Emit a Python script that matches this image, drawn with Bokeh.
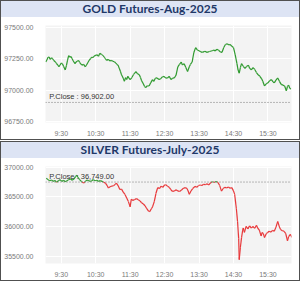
from bokeh.plotting import figure
from bokeh.models import Div, FixedTicker, PrintfTickFormatter, Span, ColumnDataSource, Range1d
from bokeh.layouts import column
from bokeh.core.properties import value
from bokeh.embed import file_html
from bokeh.resources import INLINE

# ---------------- data ----------------
x_tick_labels = ["9:30", "10:30", "11:30", "12:30", "13:30", "14:30", "15:30"]

gold_title = "GOLD Futures-Aug-2025"
gold_pclose = 96902.00
gold_yticks = [96750, 97000, 97250, 97500]
gold_times = [
    "9:03", "9:05", "9:07", "9:09", "9:11", "9:13", "9:15", "9:17", "9:20", "9:22",
    "9:24", "9:26", "9:28", "9:30", "9:32", "9:34", "9:37", "9:39", "9:41", "9:43",
    "9:45", "9:47", "9:49", "9:51", "9:54", "9:56", "9:58", "10:00", "10:02", "10:04",
    "10:06", "10:09", "10:12", "10:14", "10:17", "10:19", "10:21", "10:23", "10:25", "10:27",
    "10:29", "10:32", "10:35", "10:37", "10:40", "10:43", "10:45", "10:47", "10:49", "10:52",
    "10:55", "10:57", "11:00", "11:03", "11:05", "11:07", "11:09", "11:11", "11:13", "11:15",
    "11:18", "11:20", "11:22", "11:24", "11:26", "11:28", "11:30", "11:33", "11:36", "11:38",
    "11:40", "11:43", "11:46", "11:48", "11:50", "11:52", "11:55", "11:57", "12:00", "12:03",
    "12:06", "12:09", "12:11", "12:14", "12:17", "12:20", "12:23", "12:26", "12:29", "12:32",
    "12:35", "12:38", "12:41", "12:44", "12:47", "12:50", "12:53", "12:56", "12:59", "13:01",
    "13:04", "13:07", "13:10", "13:13", "13:15", "13:18", "13:21", "13:24", "13:27", "13:30",
    "13:33", "13:36", "13:40", "13:44", "13:48", "13:53", "13:56", "13:58", "14:01", "14:04",
    "14:07", "14:10", "14:13", "14:16", "14:19", "14:22", "14:24", "14:27", "14:30", "14:33",
    "14:36", "14:38", "14:40", "14:42", "14:44", "14:47", "14:50", "14:53", "14:56", "14:58",
    "15:01", "15:04", "15:07", "15:10", "15:13", "15:16", "15:19", "15:21", "15:24", "15:27",
    "15:30", "15:33", "15:36", "15:39", "15:41", "15:44", "15:47", "15:50", "15:53", "15:56",
    "15:59", "16:02", "16:04", "16:06", "16:08", "16:10",
]
gold_prices = [
    97224, 97240, 97262, 97263, 97245, 97258, 97250, 97236, 97224, 97210,
    97200, 97186, 97200, 97215, 97211, 97190, 97161, 97195, 97240, 97275,
    97262, 97268, 97250, 97232, 97211, 97225, 97230, 97237, 97222, 97210,
    97199, 97205, 97186, 97200, 97224, 97240, 97250, 97263, 97258, 97270,
    97275, 97282, 97270, 97293, 97285, 97275, 97262, 97250, 97237, 97245,
    97232, 97237, 97230, 97224, 97215, 97205, 97199, 97175, 97150, 97122,
    97095, 97071, 97100, 97085, 97110, 97095, 97084, 97100, 97125, 97135,
    97148, 97130, 97122, 97100, 97075, 97058, 97030, 97020, 97035, 97033,
    97060, 97084, 97070, 97095, 97097, 97085, 97090, 97105, 97110, 97095,
    97097, 97110, 97084, 97095, 97097, 97120, 97186, 97205, 97224, 97200,
    97211, 97180, 97148, 97186, 97205, 97224, 97300, 97339, 97320, 97314,
    97305, 97301, 97310, 97301, 97308, 97314, 97320, 97312, 97326, 97318,
    97305, 97301, 97340, 97364, 97370, 97360, 97364, 97350, 97339, 97280,
    97211, 97160, 97135, 97180, 97211, 97190, 97173, 97190, 97199, 97175,
    97161, 97180, 97165, 97140, 97122, 97110, 97090, 97071, 97033, 97050,
    97058, 97075, 97084, 97065, 97058, 97080, 97097, 97070, 97046, 97040,
    97033, 96995, 97030, 97040, 97015, 97008,
]

silver_title = "SILVER Futures-July-2025"
silver_pclose = 36749.00
silver_yticks = [35500, 36000, 36500, 37000]
silver_times = [
    "9:04", "9:07", "9:10", "9:13", "9:16", "9:19", "9:22", "9:25", "9:28", "9:31",
    "9:34", "9:37", "9:40", "9:43", "9:46", "9:49", "9:52", "9:55", "9:57", "9:59",
    "10:02", "10:05", "10:09", "10:12", "10:15", "10:18", "10:21", "10:23", "10:26", "10:29",
    "10:32", "10:35", "10:38", "10:41", "10:44", "10:47", "10:50", "10:52", "10:55", "10:58",
    "11:01", "11:04", "11:06", "11:09", "11:12", "11:15", "11:18", "11:21", "11:24", "11:27",
    "11:30", "11:32", "11:35", "11:38", "11:41", "11:44", "11:47", "11:50", "11:53", "11:56",
    "11:59", "12:02", "12:04", "12:07", "12:09", "12:12", "12:15", "12:18", "12:21", "12:24",
    "12:27", "12:30", "12:32", "12:35", "12:38", "12:41", "12:44", "12:47", "12:50", "12:53",
    "12:56", "12:59", "13:02", "13:06", "13:09", "13:11", "13:13", "13:16", "13:19", "13:23",
    "13:26", "13:29", "13:32", "13:35", "13:38", "13:41", "13:44", "13:47", "13:50", "13:53",
    "13:57", "14:00", "14:03", "14:06", "14:09", "14:12", "14:15", "14:18", "14:21", "14:24",
    "14:27", "14:30", "14:32", "14:35", "14:37", "14:39", "14:40", "14:42", "14:44", "14:46",
    "14:47", "14:49", "14:52", "14:55", "14:58", "15:01", "15:04", "15:07", "15:10", "15:12",
    "15:15", "15:18", "15:20", "15:22", "15:24", "15:27", "15:29", "15:32", "15:35", "15:38",
    "15:41", "15:44", "15:47", "15:50", "15:52", "15:55", "15:58", "16:01", "16:04", "16:06",
    "16:09", "16:12",
]
silver_prices = [
    36812, 36790, 36770, 36785, 36760, 36775, 36745, 36770, 36790, 36760,
    36780, 36755, 36770, 36790, 36805, 36780, 36800, 36840, 36865, 36830,
    36790, 36760, 36731, 36760, 36785, 36770, 36760, 36773, 36790, 36770,
    36780, 36760, 36773, 36760, 36745, 36731, 36690, 36650, 36670, 36680,
    36687, 36710, 36731, 36690, 36623, 36630, 36580, 36540, 36480, 36420,
    36331, 36460, 36440, 36455, 36470, 36450, 36433, 36400, 36380, 36350,
    36300, 36260, 36250, 36300, 36331, 36420, 36560, 36655, 36640, 36680,
    36660, 36700, 36704, 36680, 36660, 36620, 36590, 36600, 36620, 36600,
    36590, 36610, 36640, 36655, 36640, 36600, 36542, 36600, 36640, 36676,
    36660, 36690, 36700, 36690, 36710, 36705, 36720, 36700, 36735, 36755,
    36741, 36760, 36740, 36690, 36595, 36640, 36660, 36650, 36665, 36645,
    36655, 36600, 36542, 36300, 36089, 35800, 35442, 35650, 35814, 35940,
    35975, 35900, 36003, 35960, 36010, 35975, 36000, 35970, 36020, 35975,
    35940, 35841, 35900, 35880, 35814, 35880, 35895, 35920, 35905, 35935,
    35920, 35990, 36084, 35990, 35948, 35930, 35920, 35880, 35760, 35830,
    35867, 35814,
]

GREEN = "#2f9a2f"
RED = "#e8383a"


def to_min(s):
    h, m = s.split(":")
    return int(h) * 60 + int(m)


def split_segments(xs, ys, ref):
    x0, y0, x1, y1, col = [], [], [], [], []
    for i in range(len(xs) - 1):
        a, b = ys[i], ys[i + 1]
        xa, xb = xs[i], xs[i + 1]
        if (a >= ref) == (b >= ref):
            x0.append(xa); y0.append(a); x1.append(xb); y1.append(b)
            col.append(GREEN if a >= ref else RED)
        else:
            t = (ref - a) / (b - a)
            xm = xa + t * (xb - xa)
            x0 += [xa, xm]; y0 += [a, ref]; x1 += [xm, xb]; y1 += [ref, b]
            col += [GREEN if a >= ref else RED, GREEN if b >= ref else RED]
    return dict(x0=x0, y0=y0, x1=x1, y1=y1, color=col)


def make_panel(title, times, prices, pclose, yticks, yrange):
    xs = [to_min(t) for t in times]
    p = figure(width=298, height=122, output_backend="svg", toolbar_location=None,
               x_range=Range1d(542.6, 971), y_range=Range1d(*yrange),
               min_border_left=40, min_border_right=8, min_border_top=8,
               min_border_bottom=13, background_fill_color="#f3f3f3",
               border_fill_color="white", outline_line_color=None)
    p.xgrid.grid_line_color = "white"
    p.ygrid.grid_line_color = "white"
    p.xgrid.grid_line_width = 1
    p.ygrid.grid_line_width = 1

    for ax in (p.xaxis, p.yaxis):
        ax.axis_line_color = None
        ax.major_tick_line_color = None
        ax.minor_tick_line_color = None
        ax.major_label_text_color = "#7a7a7a"
        ax.major_label_text_font = "Liberation Sans"
        ax.major_label_text_font_size = "7px"
    p.xaxis.ticker = FixedTicker(ticks=[to_min(t) for t in x_tick_labels])
    p.xaxis.major_label_overrides = {to_min(t): t for t in x_tick_labels}
    p.xaxis.major_label_standoff = 1
    p.yaxis.ticker = FixedTicker(ticks=yticks)
    p.yaxis.formatter = PrintfTickFormatter(format="%.2f")
    p.yaxis.major_label_standoff = 6

    p.add_layout(Span(location=pclose, dimension="width", line_color="#7a7a7a",
                      line_dash="1 2", line_width=1))

    src = ColumnDataSource(split_segments(xs, prices, pclose))
    p.segment(x0="x0", y0="y0", x1="x1", y1="y1", color="color", line_width=1.2, source=src)

    p.text(x=[549], y=[pclose], text=[f"P.Close : {pclose:,.2f}"],
           text_font=value("Liberation Sans"), text_font_size="7.5px",
           text_color="#333333", text_baseline="bottom", y_offset=-1)

    head = Div(text=title, width=298, height=16, margin=(0, 0, 0, 0),
               styles={"background-color": "#dde4f4", "color": "#1f3868",
                       "font-weight": "bold", "font-size": "12px",
                       "font-family": "Lato", "text-align": "center",
                       "line-height": "16px"})
    return column(head, p, spacing=0, margin=(0, 0, 0, 0),
                  styles={"border": "1px solid #505050"})


gold_panel = make_panel(gold_title, gold_times, gold_prices, gold_pclose,
                        gold_yticks, (96742, 97515))
silver_panel = make_panel(silver_title, silver_times, silver_prices, silver_pclose,
                          silver_yticks, (35377, 37011))

layout = column(gold_panel, silver_panel, spacing=1, margin=(0, 0, 0, 0))

open("out.html", "w").write(file_html(layout, INLINE))
